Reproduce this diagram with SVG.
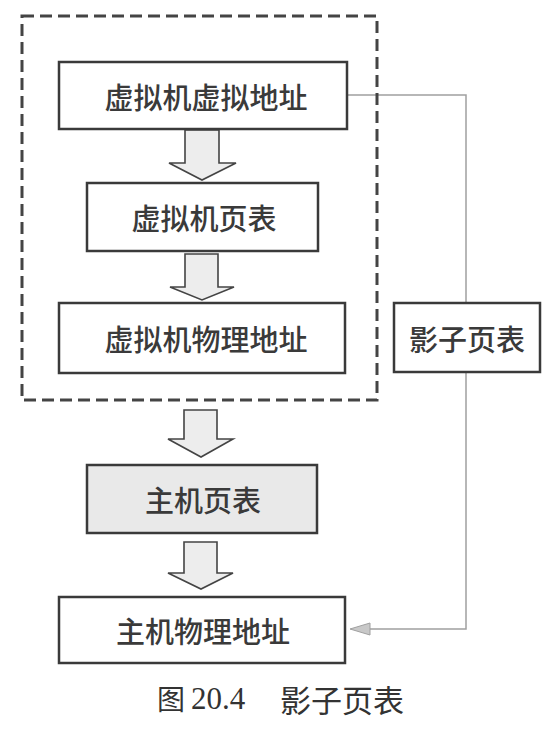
<svg xmlns="http://www.w3.org/2000/svg" width="557" height="734" viewBox="0 0 557 734">
<style>
.box{fill:#ffffff;stroke:#3a3a3a;stroke-width:2.5}
.gbox{fill:#e9e9e9;stroke:#3a3a3a;stroke-width:2.5}
.lbl{font-family:"Noto Sans CJK SC","Noto Sans",sans-serif;font-size:29px;font-weight:500;fill:#3a3a3a;text-anchor:middle;dominant-baseline:central}
.blk{fill:#ededed;stroke:#444;stroke-width:1.6;stroke-linejoin:miter}
.conn{fill:none;stroke:#a0a0a0;stroke-width:1.5}
.dash{fill:none;stroke:#444;stroke-width:3;stroke-dasharray:12 6}
</style>
<rect width="557" height="734" fill="#ffffff"/>
<g id="connectors">
<path class="conn" d="M347 95 H466 V629 H368"/>
<path d="M370 623 L350 629 L370 635 Z" fill="#c8c8c8" stroke="#a0a0a0" stroke-width="1"/>
<path class="blk" d="M185 130 H219 V163 H236 L202 180 L169 163 H185 Z"/>
<path class="blk" d="M185 254 H218 V287 H234 L202 300 L170 287 H185 Z"/>
<path class="blk" d="M184 410 H217 V439 H233 L201 457 L168 439 H184 Z"/>
<path class="blk" d="M184 542 H217 V573 H233 L201 589 L168 573 H184 Z"/>
</g>
<g id="vm-group">
<rect class="dash" x="22" y="16" width="355" height="384"/>
</g>
<g id="node-vm-va">
<rect class="box" x="59" y="62" width="288" height="67"/>
<text class="lbl" x="206" y="96">虚拟机虚拟地址</text>
</g>
<g id="node-vm-pt">
<rect class="box" x="87" y="183" width="231" height="68"/>
<text class="lbl" x="204" y="217">虚拟机页表</text>
</g>
<g id="node-vm-pa">
<rect class="box" x="59" y="303" width="286" height="70"/>
<text class="lbl" x="206" y="338">虚拟机物理地址</text>
</g>
<g id="node-host-pt">
<rect class="gbox" x="87" y="465" width="230" height="68"/>
<text class="lbl" x="203" y="499">主机页表</text>
</g>
<g id="node-host-pa">
<rect class="box" x="59" y="597" width="286" height="66"/>
<text class="lbl" x="203" y="630">主机物理地址</text>
</g>
<g id="node-shadow">
<rect class="box" x="394" y="303" width="146" height="69"/>
<text class="lbl" x="467" y="338">影子页表</text>
</g>
<g id="caption">
<text y="698" dominant-baseline="central" fill="#333" font-size="28"><tspan x="157" font-family="Noto Sans CJK SC,sans-serif">图</tspan><tspan x="191" font-family="Liberation Serif,serif" font-size="31">20.4</tspan><tspan x="280" font-family="Noto Sans CJK SC,sans-serif" font-size="31">影子页表</tspan></text>
</g>
</svg>
